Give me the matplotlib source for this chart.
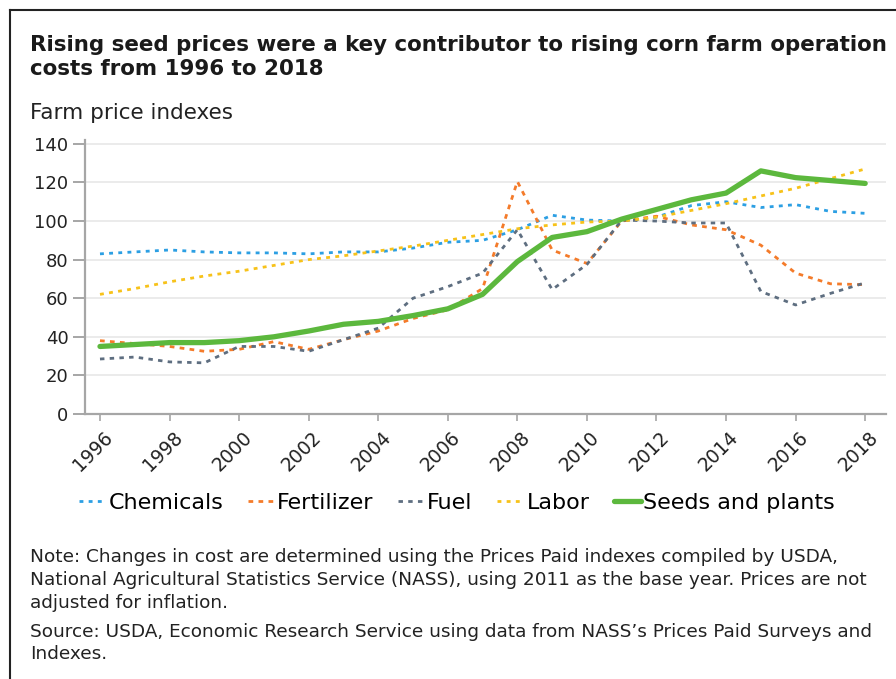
import matplotlib
matplotlib.use("Agg")
from matplotlib import pyplot as plt
from matplotlib.lines import Line2D
import matplotlib.transforms as mtransforms

plt.rcParams['font.family'] = ['DejaVu Sans']

years = list(range(1996, 2019))

chemicals = [83, 84, 85, 84, 83.5, 83.5, 83, 84, 84, 86, 89, 90, 95.5, 103,
             100.5, 100, 102, 108, 110, 107, 108.5, 105, 104]
fertilizer = [38, 36.5, 35, 32.5, 33.5, 37.5, 33.5, 38.5, 43, 49.5, 54, 65,
              120.5, 85, 78, 100, 102.5, 98, 95.5, 87.5, 73, 67.5, 67]
fuel = [28.5, 29.5, 27, 26.5, 35, 35, 32.5, 38.5, 44.5, 60, 66, 73, 95.5,
        64.5, 77.5, 100.5, 100, 99, 99, 63.5, 56.5, 62.5, 68]
labor = [62, 65, 68.5, 71.5, 74, 77, 80, 82, 84.5, 87, 90, 93, 96, 98, 99.5,
         100, 102, 105.5, 109, 113, 117, 122, 127]
seeds = [35, 36, 37, 37, 38, 40, 43, 46.5, 48, 51, 54.5, 62, 79, 91.5, 94.5,
         101, 106, 111, 114.5, 126, 122.5, 121, 119.5]

series = [
    ('Chemicals', chemicals, '#2c9fe3', 2.0, (0, (1.4, 1.9))),
    ('Fertilizer', fertilizer, '#f47b2a', 2.0, (0, (1.7, 1.9))),
    ('Fuel', fuel, '#5e6e80', 2.0, (0, (1.6, 1.9))),
    ('Labor', labor, '#f7c21a', 2.0, (0, (1.4, 1.9))),
    ('Seeds and plants', seeds, '#5cb83d', 3.8, '-'),
]

fig = plt.figure(figsize=(8.96, 6.79), dpi=100)
ax = fig.add_axes((0.0949, 0.3903, 0.894, 0.4035))

for name, vals, color, lw, ls in series:
    ax.plot(years, vals, color=color, lw=lw, linestyle=ls, label=name,
            solid_capstyle='round', dash_capstyle='butt')

ax.set_xlim(1995.57, 2018.6)
ax.set_ylim(0, 142)
ax.set_yticks(range(0, 141, 20))
ax.set_xticks(range(1996, 2019, 2))
ax.grid(axis='y', color='#ebebeb', lw=1.4)
ax.set_axisbelow(True)

for side in ('top', 'right'):
    ax.spines[side].set_visible(False)
for side in ('left', 'bottom'):
    ax.spines[side].set_color('#a6a6a6')
    ax.spines[side].set_linewidth(1.6)

ax.tick_params(axis='y', length=9, width=1.4, color='#a6a6a6',
               labelsize=13, labelcolor='#222222', pad=3)
ax.tick_params(axis='x', length=5, width=1.2, color='#a6a6a6',
               labelsize=13.5, labelcolor='#222222', pad=5)
shift = mtransforms.ScaledTranslation(-0.07, 0, fig.dpi_scale_trans)
for lab in ax.get_xticklabels():
    lab.set_rotation(45)
    lab.set_ha('center')
    lab.set_va('top')
    lab.set_transform(lab.get_transform() + shift)

fig.legend(loc='center', bbox_to_anchor=(0.51, 0.259), ncol=5, frameon=False,
           fontsize=16, handlelength=1.2, handletextpad=0.12,
           columnspacing=1.1, borderaxespad=0)

fig.text(30 / 896, 1 - 57 / 679,
         'Rising seed prices were a key contributor to rising corn farm operation\n'
         'costs from 1996 to 2018',
         fontsize=15.4, fontweight='bold', color='#1a1a1a', va='center',
         linespacing=1.25)
fig.text(30 / 896, 1 - 113 / 679, 'Farm price indexes', fontsize=15.5,
         color='#222222', va='center')

fig.text(30 / 896, 1 - 580 / 679,
         'Note: Changes in cost are determined using the Prices Paid indexes compiled by USDA,\n'
         'National Agricultural Statistics Service (NASS), using 2011 as the base year. Prices are not\n'
         'adjusted for inflation.',
         fontsize=13.3, color='#222222', va='center', linespacing=1.35)
fig.text(30 / 896, 1 - 643 / 679,
         'Source: USDA, Economic Research Service using data from NASS\u2019s Prices Paid Surveys and\n'
         'Indexes.',
         fontsize=13.3, color='#222222', va='center', linespacing=1.35)

# open frame on the top and left edges
fig.add_artist(Line2D([10 / 896, 10 / 896], [0, 1 - 10 / 679],
                      transform=fig.transFigure, color='#222222', lw=1.5))
fig.add_artist(Line2D([10 / 896, 1], [1 - 10 / 679, 1 - 10 / 679],
                      transform=fig.transFigure, color='#222222', lw=1.5))

fig.savefig('out.png', dpi=100)
